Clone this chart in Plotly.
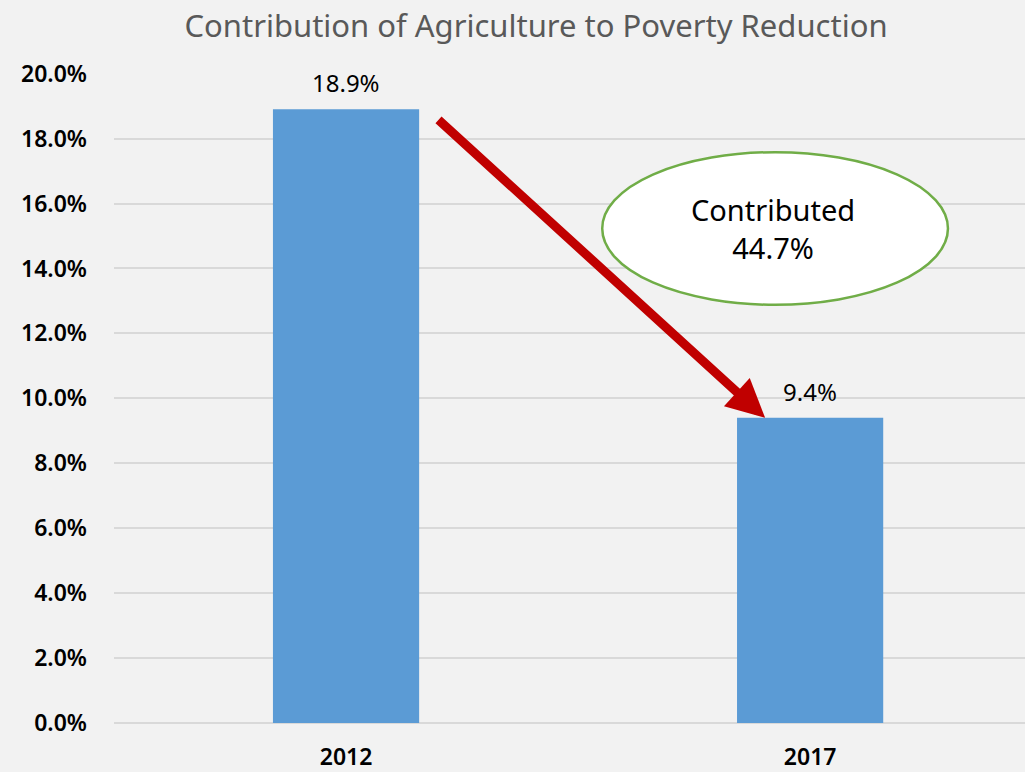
import plotly.graph_objects as go

# Poverty rate by year
years = ["2012", "2017"]
poverty_rate = [18.9, 9.4]
bar_labels = ["18.9%", "9.4%"]
contribution_text = ["Contributed", "44.7%"]

y_ticks = [0, 2, 4, 6, 8, 10, 12, 14, 16, 18, 20]
y_tick_labels = ["0.0%", "2.0%", "4.0%", "6.0%", "8.0%", "10.0%",
                 "12.0%", "14.0%", "16.0%", "18.0%", "20.0%"]

BG = "#f2f2f2"
BAR = "#5b9bd5"
GRID = "#d9d9d9"
ARROW = "#c00000"
OVAL_LINE = "#70ad47"

fig = go.Figure()

fig.add_trace(go.Bar(
    x=years,
    y=poverty_rate,
    width=0.315,
    marker=dict(color=BAR, line=dict(width=0)),
    hoverinfo="skip",
))

# Value labels above each bar (category axes place annotations by index)
for i, (val, lab) in enumerate(zip(poverty_rate, bar_labels)):
    fig.add_annotation(
        x=i, y=val, xref="x", yref="y",
        text=lab, showarrow=False,
        yanchor="bottom", yshift=8,
        font=dict(family="Noto Sans", size=24, color="#000000"),
    )

# Red arrow from the 2012 bar down to the top of the 2017 bar
fig.add_annotation(
    x=0.903, y=poverty_rate[1],
    ax=0.196, ay=poverty_rate[0] - 0.28,
    xref="x", yref="y", axref="x", ayref="y",
    text="", showarrow=True,
    arrowhead=2, arrowsize=0.85, arrowwidth=9, arrowcolor=ARROW,
)

# Oval call-out
fig.add_shape(
    type="circle", xref="x", yref="y",
    x0=0.552, x1=1.297, y0=12.88, y1=17.58,
    fillcolor="#ffffff", line=dict(color=OVAL_LINE, width=2.5),
    layer="above",
)
fig.add_annotation(
    x=0.92, y=15.23, xref="x", yref="y",
    text="<br>".join(contribution_text), showarrow=False,
    font=dict(family="Noto Sans", size=29, color="#000000"),
    align="center",
)

fig.update_layout(
    width=1025, height=772,
    paper_bgcolor=BG, plot_bgcolor=BG,
    margin=dict(l=114, r=0, t=73, b=47),
    showlegend=False,
    title=dict(
        text="Contribution of Agriculture to Poverty Reduction",
        x=536 / 1025, xanchor="center", xref="container",
        y=1 - 26 / 772, yanchor="middle", yref="container",
        font=dict(family="Noto Sans", size=31, color="#595959"),
    ),
    xaxis=dict(
        type="category",
        range=[-0.5, 1.463],
        showgrid=False, zeroline=False, showline=False,
        ticks="",
        ticklabelstandoff=18,
        tickfont=dict(family="Noto Sans", size=23, color="#000000", weight=600),
    ),
    yaxis=dict(
        range=[0, 20.02],
        tickvals=y_ticks, ticktext=y_tick_labels,
        showgrid=True, gridcolor=GRID, gridwidth=2,
        zeroline=True, zerolinecolor=GRID, zerolinewidth=2,
        showline=False, ticks="",
        ticklabelstandoff=26,
        tickfont=dict(family="Noto Sans", size=23, color="#000000", weight=600),
    ),
)

fig.write_html("out.html")
